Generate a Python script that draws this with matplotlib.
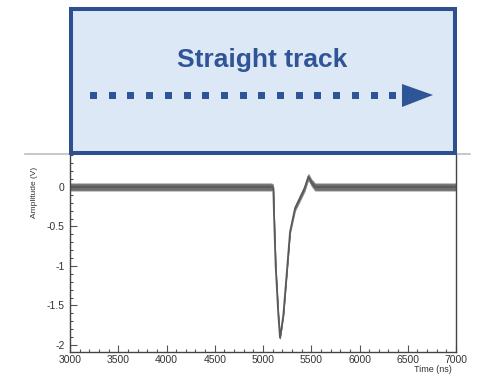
import numpy as np
import matplotlib
matplotlib.use("Agg")
import matplotlib.pyplot as plt
from matplotlib.patches import Rectangle, Polygon
from matplotlib.ticker import MultipleLocator

# waveform: time (ns), amplitude (V), half width of noise band (V)
time_ns = [3000, 3500, 4000, 4500, 5000, 5080, 5100, 5107, 5114, 5131, 5159, 5176,
           5190, 5211, 5252, 5280, 5332, 5383, 5430, 5470, 5500, 5539,
           5600, 5800, 6000, 6500, 7000]
amplitude = [0.0, 0.0, 0.0, 0.0, 0.0, 0.0, 0.0, -0.02, -0.35, -1.0, -1.62, -1.91,
             -1.8, -1.62, -1.0, -0.57, -0.27, -0.14, -0.02, 0.13, 0.06, 0.0,
             0.0, 0.0, 0.0, 0.0, 0.0]
noise = [0.045, 0.045, 0.045, 0.045, 0.045, 0.045, 0.04, 0.02, 0.01, 0.01, 0.01, 0.01,
         0.01, 0.01, 0.012, 0.018, 0.03, 0.035, 0.035, 0.035, 0.04, 0.045,
         0.045, 0.045, 0.045, 0.045, 0.045]

x_ticks = [3000, 3500, 4000, 4500, 5000, 5500, 6000, 6500, 7000]
y_ticks = [-2, -1.5, -1, -0.5, 0]
y_tick_labels = ["-2", "-1.5", "-1", "-0.5", "0"]

title = "Straight track"

W, H = 482, 376
fig = plt.figure(figsize=(W / 100, H / 100), dpi=100)
plt.rcParams['font.family'] = ['Liberation Sans', 'DejaVu Sans']

# scope trace
ax = fig.add_axes([70 / W, 1 - 352 / H, 386 / W, 197 / H])
t = np.array(time_ns)
a = np.array(amplitude)
n = np.array(noise)
ax.fill_between(t, a - n, a + n, color='#6e6e6e', lw=0.6, edgecolor='#8a8a8a')
ax.plot(t, a, color='#5a5a5a', lw=1.3)
ax.set_xlim(3000, 7000)
ax.set_ylim(-2.09, 0.405)
ax.set_xticks(x_ticks)
ax.set_xticklabels([str(v) for v in x_ticks])
ax.set_yticks(y_ticks)
ax.set_yticklabels(y_tick_labels)
ax.xaxis.set_minor_locator(MultipleLocator(100))
ax.yaxis.set_minor_locator(MultipleLocator(0.1))
ax.tick_params(which='both', direction='in', colors='#555555', labelcolor='#333333',
               labelsize=7.5, width=0.8)
ax.tick_params(which='major', length=5)
ax.tick_params(which='minor', length=2.5)
ax.tick_params(axis='x', pad=2)
ax.tick_params(axis='y', pad=4)
for s in ax.spines.values():
    s.set_color('#444444')
    s.set_linewidth(1.0)
ax.spines['top'].set_visible(False)

fig.text(35 / W, 1 - 192 / H, "Amplitude (V)", rotation=90, ha='center', va='center',
         fontsize=6, color='#333333')
fig.text(452 / W, 1 - 370 / H, "Time (ns)", ha='right', va='center',
         fontsize=6.5, color='#333333')

# slide overlay in pixel coordinates
ov = fig.add_axes([0, 0, 1, 1], zorder=5)
ov.set_xlim(0, W)
ov.set_ylim(H, 0)
ov.set_axis_off()

ov.plot([25, 470], [154, 154], color='#bdbdbd', lw=1.2, zorder=1)
ov.add_patch(Rectangle((71, 9), 384, 144, facecolor='#dde8f6', edgecolor='#2e5090',
                       lw=2.9, zorder=2))
ov.text(262, 60, title, ha='center', va='center', fontsize=19, fontweight='bold',
        color='#2f5597', zorder=3)

# dotted arrow
for cx in np.arange(93.5, 400, 18.7):
    ov.add_patch(Rectangle((cx - 3.5, 91.5), 7, 7, facecolor='#2e5597', edgecolor='none', zorder=3))
ov.add_patch(Polygon([[402, 84], [433, 95], [402, 107]], closed=True,
                     facecolor='#2e5597', edgecolor='none', zorder=3))

fig.savefig("out.png", dpi=100)
